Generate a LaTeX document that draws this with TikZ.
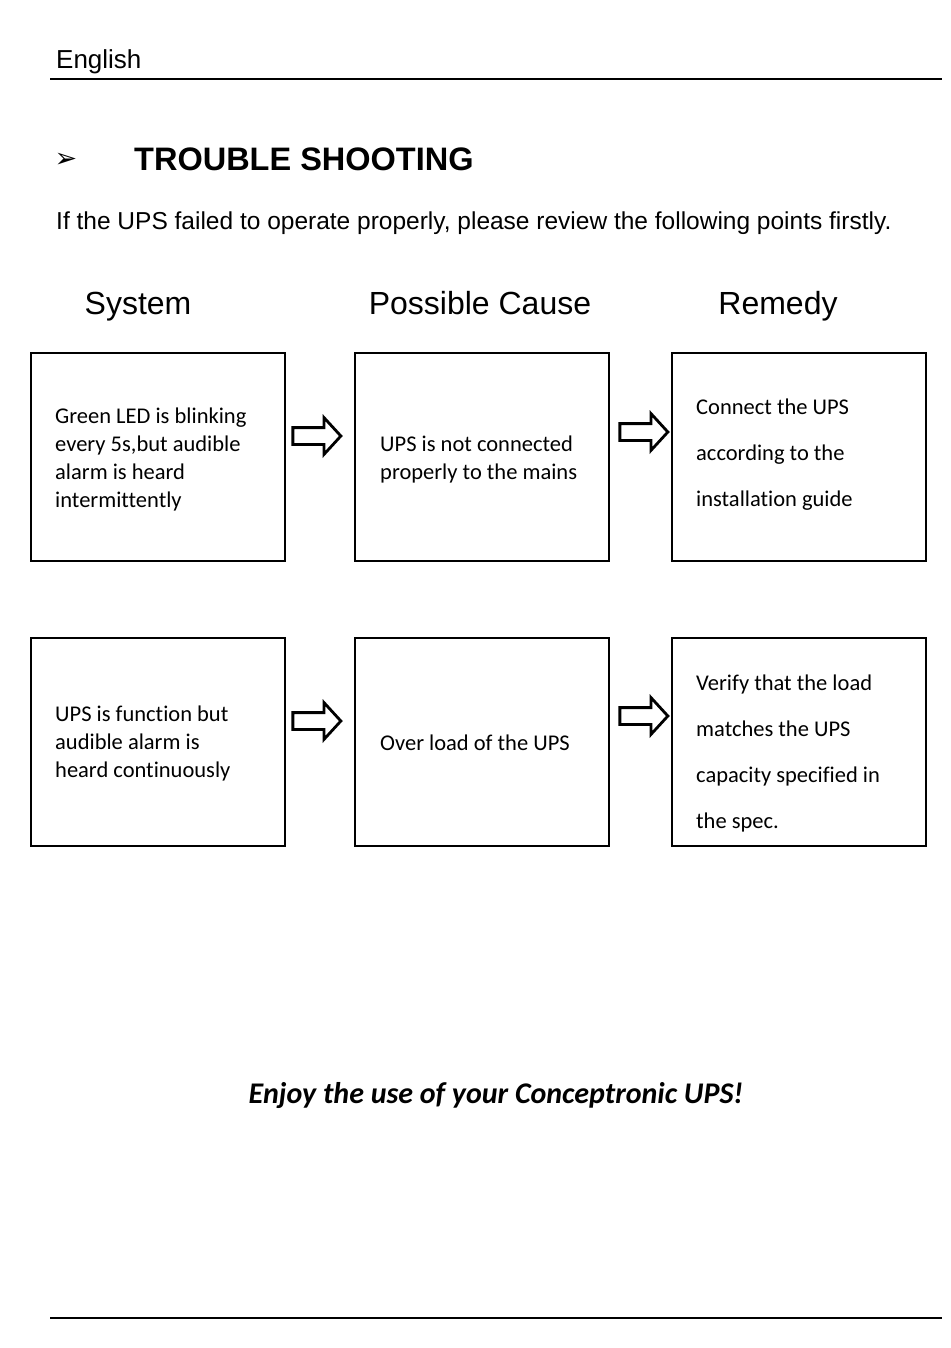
\documentclass[tikz,border=0pt]{standalone}
\usepackage{fontspec}
\setmainfont{Liberation Sans}
\newfontfamily\calfont[Ligatures=NoCommon]{Carlito}
\newfontfamily\dvfont{DejaVu Sans}
\usetikzlibrary{shapes.arrows}
\begin{document}
\begin{tikzpicture}[x=1pt,y=-1pt,
  boxst/.style={draw,line width=2pt,minimum width=254pt,minimum height=208pt,anchor=north west,inner sep=0pt},
  bt/.style={anchor=west,align=left,inner sep=0pt,font=\calfont\fontsize{22.5}{28}\selectfont},
  btw/.style={anchor=west,align=left,inner sep=0pt,font=\calfont\fontsize{22.5}{46}\selectfont},
  colh/.style={anchor=base,inner sep=0pt,font=\fontsize{32}{38}\selectfont},
  barrow/.style={single arrow,draw,line width=2.8pt,minimum height=48pt,inner sep=7pt,single arrow head extend=10pt,single arrow tip angle=95,shape border rotate=0}
]
\useasboundingbox (0,0) rectangle (950,1348);
\node[anchor=base west,inner sep=0pt,font=\fontsize{26}{30}\selectfont] (lang) at (56,69) {English};
\coordinate (tl) at (50,79); \coordinate (tr) at (942,79);
\draw[line width=2.2pt] (tl) -- (tr);
\node[inner sep=0pt,font=\dvfont\fontsize{27}{30}\selectfont] (bul) at (66,160) {➢};
\node[anchor=base west,inner sep=0pt,font=\bfseries\fontsize{32.5}{38}\selectfont] (title) at (134,171) {TROUBLE SHOOTING};
\node[anchor=base west,inner sep=0pt,font=\fontsize{24.5}{28}\selectfont] (intro) at (56,230) {If the UPS failed to operate properly, please review the following points firstly.};
\node[colh] (h1) at (138,314) {System};
\node[colh] (h2) at (480,314) {Possible Cause};
\node[colh] (h3) at (778,314) {Remedy};
% row 1
\node[boxst] (a1) at (30,352) {};
\node[boxst] (b1) at (354,352) {};
\node[boxst] (c1) at (671,352) {};
\node[bt] (ta1) at (55,459) {Green LED is blinking\\every 5s,but audible\\alarm is heard\\intermittently};
\node[bt] (tb1) at (380,459) {UPS is not connected\\properly to the mains};
\node[btw] (tc1) at (696,455) {Connect the UPS\\according to the\\installation guide};
\node[barrow] (r1) at (313,436) {};
\node[barrow] (s1) at (640,432) {};
% row 2
\node[boxst] (a2) at (30,637) {};
\node[boxst] (b2) at (354,637) {};
\node[boxst] (c2) at (671,637) {};
\node[bt] (ta2) at (55,743) {UPS is function but\\audible alarm is\\heard continuously};
\node[bt] (tb2) at (380,743) {Over load of the UPS};
\node[btw] (tc2) at (696,753) {Verify that the load\\matches the UPS\\capacity specified in\\the spec.};
\node[barrow] (r2) at (313,721) {};
\node[barrow] (s2) at (640,716) {};
\node[inner sep=0pt,font=\calfont\bfseries\itshape\fontsize{30}{34}\selectfont] (enjoy) at (496,1095) {Enjoy the use of your Conceptronic UPS!};
\coordinate (bl) at (50,1318); \coordinate (br) at (942,1318);
\draw[line width=2.2pt] (bl) -- (br);
\end{tikzpicture}
\end{document}
